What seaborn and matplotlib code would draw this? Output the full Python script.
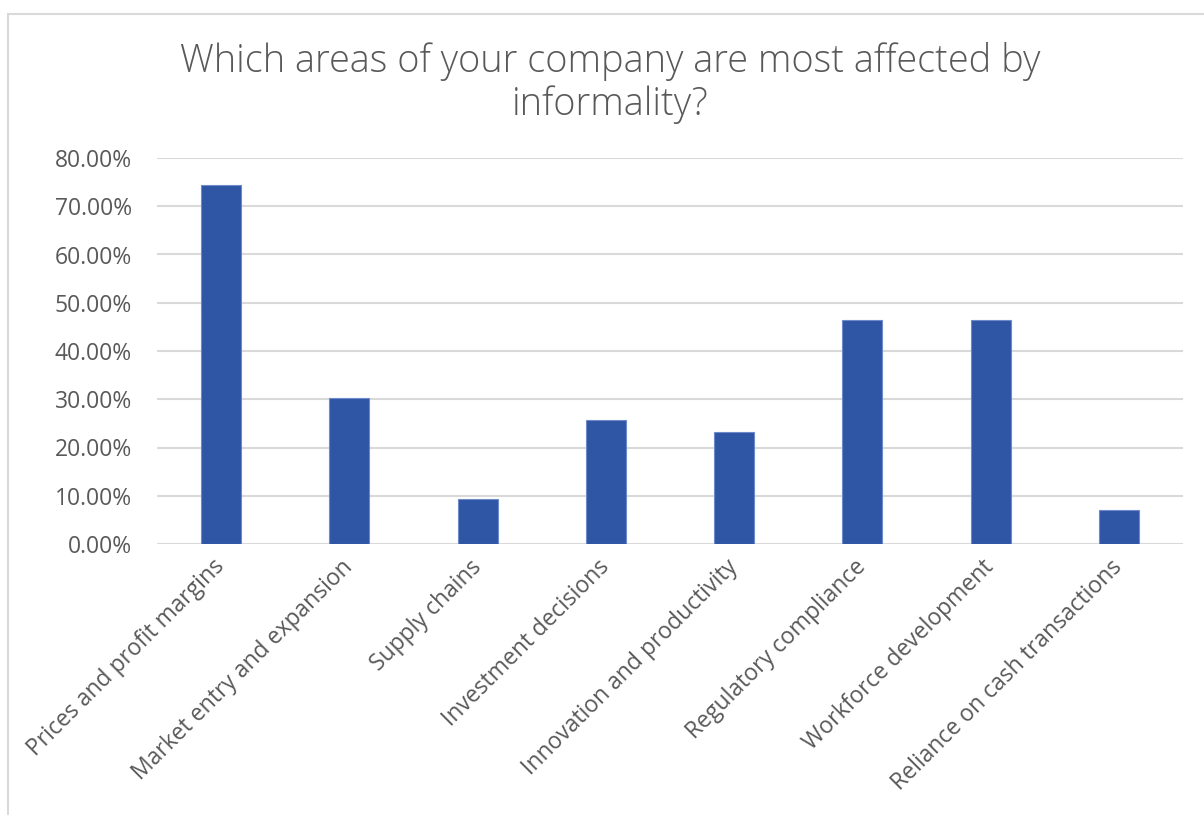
import matplotlib
matplotlib.use("Agg")
import matplotlib.pyplot as plt
from matplotlib.lines import Line2D
from matplotlib.ticker import FuncFormatter, MultipleLocator
import seaborn as sns
import pandas as pd

# Survey results: share of respondents naming each area
areas = [
    "Prices and profit margins",
    "Market entry and expansion",
    "Supply chains",
    "Investment decisions",
    "Innovation and productivity",
    "Regulatory compliance",
    "Workforce development",
    "Reliance on cash transactions",
]
shares = [0.744, 0.302, 0.093, 0.256, 0.233, 0.465, 0.465, 0.070]

title = "Which areas of your company are most affected by\ninformality?"

sns.set_theme(style="white")
plt.rcParams["font.family"] = ["Open Sans", "DejaVu Sans"]

text_gray = "#595959"
grid_gray = "#D9D9D9"
bar_blue = "#2F55A5"

df = pd.DataFrame({"area": areas, "share": shares})

fig = plt.figure(figsize=(12.04, 8.15), dpi=100)
ax = fig.add_axes([157 / 1204, 1 - 544 / 815, (1183 - 157) / 1204, (544 - 158) / 815])

sns.barplot(data=df, x="area", y="share", ax=ax, color=bar_blue, width=0.31,
            saturation=1, edgecolor="#6F8AC9", linewidth=0.8, zorder=3)

ax.set_ylim(0, 0.8)
ax.set_xlim(-0.5, len(areas) - 0.5)
ax.yaxis.set_major_locator(MultipleLocator(0.1))
ax.yaxis.set_major_formatter(FuncFormatter(lambda v, _: f"{v * 100:.2f}%"))
ax.grid(axis="y", color=grid_gray, linewidth=1.5, zorder=0)
ax.grid(axis="x", visible=False)
for s in ax.spines.values():
    s.set_visible(False)
ax.set_xlabel("")
ax.set_ylabel("")

ax.tick_params(axis="y", length=0, pad=18, labelsize=16.5, labelcolor=text_gray)
ax.tick_params(axis="x", length=0, pad=14, labelsize=16.5, labelcolor=text_gray)
for lbl in ax.get_xticklabels():
    lbl.set_rotation(45)
    lbl.set_ha("right")
    lbl.set_va("center")
    lbl.set_rotation_mode("anchor")

lines = title.split("\n")
fig.text(610 / 1204, 1 - 72 / 815, lines[0], ha="center", va="baseline",
         fontsize=27.3, fontweight="light", color=text_gray)
fig.text(610 / 1204, 1 - 115 / 815, lines[1], ha="center", va="baseline",
         fontsize=27.3, fontweight="light", color=text_gray)

# Chart-area frame (top and left edges)
fig.add_artist(Line2D([8 / 1204, 1.0], [1 - 14 / 815, 1 - 14 / 815],
                      transform=fig.transFigure, color=grid_gray, linewidth=1.5))
fig.add_artist(Line2D([8 / 1204, 8 / 1204], [0.0, 1 - 14 / 815],
                      transform=fig.transFigure, color=grid_gray, linewidth=1.5))

fig.savefig("out.png", dpi=100, facecolor="white")
